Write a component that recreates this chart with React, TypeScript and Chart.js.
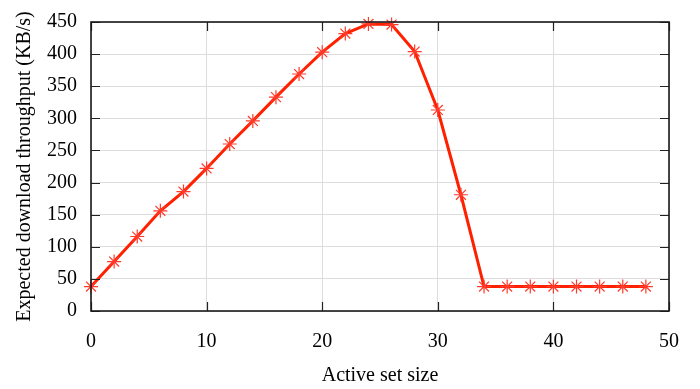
import React, { useEffect, useRef } from "react";
import { Chart, registerables } from "chart.js";

Chart.register(...registerables);

const activeSetSize = [0, 2, 4, 6, 8, 10, 12, 14, 16, 18, 20, 22, 24, 26, 28, 30, 32, 34, 36, 38, 40, 42, 44, 46, 48];
const throughput = [38, 77, 116, 156, 186, 222, 260, 296, 333, 369, 403, 432, 447, 446, 404, 313, 181, 38, 38, 38, 38, 38, 38, 38, 38];
const xTicks = [0, 10, 20, 30, 40, 50];
const yTicks = [0, 50, 100, 150, 200, 250, 300, 350, 400, 450];

const FONT = "'Liberation Serif', 'Times New Roman', serif";

const frameTicks = {
  id: "frameTicks",
  afterDraw(chart: any) {
    const { ctx, chartArea, scales } = chart;
    const { left, right, top, bottom } = chartArea;
    ctx.save();
    ctx.strokeStyle = "#222";
    ctx.lineWidth = 1.2;
    const L = 9;
    ctx.beginPath();
    for (const v of xTicks) {
      const px = Math.round(scales.x.getPixelForValue(v)) + 0.5;
      ctx.moveTo(px, bottom);
      ctx.lineTo(px, bottom - L);
      ctx.moveTo(px, top);
      ctx.lineTo(px, top + L);
    }
    for (const v of yTicks) {
      const py = Math.round(scales.y.getPixelForValue(v)) + 0.5;
      ctx.moveTo(left, py);
      ctx.lineTo(left + L, py);
      ctx.moveTo(right, py);
      ctx.lineTo(right - L, py);
    }
    ctx.stroke();
    ctx.lineWidth = 1.6;
    ctx.strokeStyle = "#1a1a1a";
    ctx.strokeRect(left, top, right - left, bottom - top);
    ctx.restore();
  },
};

const zeroPad = (s: any) => {
  s.paddingTop = 0;
  s.paddingBottom = 0;
  s.paddingLeft = 0;
  s.paddingRight = 0;
};

export default function App() {
  const ref = useRef<HTMLCanvasElement>(null);
  useEffect(() => {
    document.body.style.margin = "0";
    const chart = new Chart(ref.current!, {
      type: "line",
      data: {
        datasets: [
          {
            data: activeSetSize.map((x, i) => ({ x, y: throughput[i] })),
            borderColor: "#ff2000",
            borderWidth: 3,
            pointStyle: "star",
            pointRadius: 7,
            pointBorderColor: "#ff3a2a",
            pointBackgroundColor: "#ff3a2a",
            pointBorderWidth: 1.2,
            tension: 0,
            clip: false as any,
          },
        ],
      },
      options: {
        animation: false,
        responsive: false,
        maintainAspectRatio: false,
        layout: { padding: { left: 0, right: 31, top: 22, bottom: 0 } },
        plugins: { legend: { display: false }, tooltip: { enabled: false } },
        scales: {
          x: {
            type: "linear",
            min: 0,
            max: 50,
            afterBuildTicks: (s: any) => {
              s.ticks = xTicks.map((v) => ({ value: v }));
            },
            afterFit: (s: any) => {
              s.height = 78;
              zeroPad(s);
            },
            grid: { color: "#dddddd", lineWidth: 1, drawTicks: false },
            border: { display: false },
            ticks: { font: { family: FONT, size: 20 }, color: "#000", padding: 19, maxRotation: 0 },
            title: {
              display: true,
              text: "Active set size",
              font: { family: FONT, size: 20 },
              color: "#000",
              padding: { top: 4, bottom: 1 },
            },
          },
          y: {
            type: "linear",
            min: 0,
            max: 450,
            afterBuildTicks: (s: any) => {
              s.ticks = yTicks.map((v) => ({ value: v }));
            },
            afterFit: (s: any) => {
              s.width = 91;
              zeroPad(s);
            },
            grid: { color: "#dddddd", lineWidth: 1, drawTicks: false },
            border: { display: false },
            ticks: { font: { family: FONT, size: 20 }, color: "#000", padding: 14 },
            title: {
              display: true,
              text: "Expected download throughput (KB/s)",
              font: { family: FONT, size: 20 },
              color: "#000",
              padding: 13,
            },
          },
        },
      },
      plugins: [frameTicks],
    });
    return () => chart.destroy();
  }, []);
  return <canvas ref={ref} width={700} height={389} style={{ display: "block" }} />;
}
